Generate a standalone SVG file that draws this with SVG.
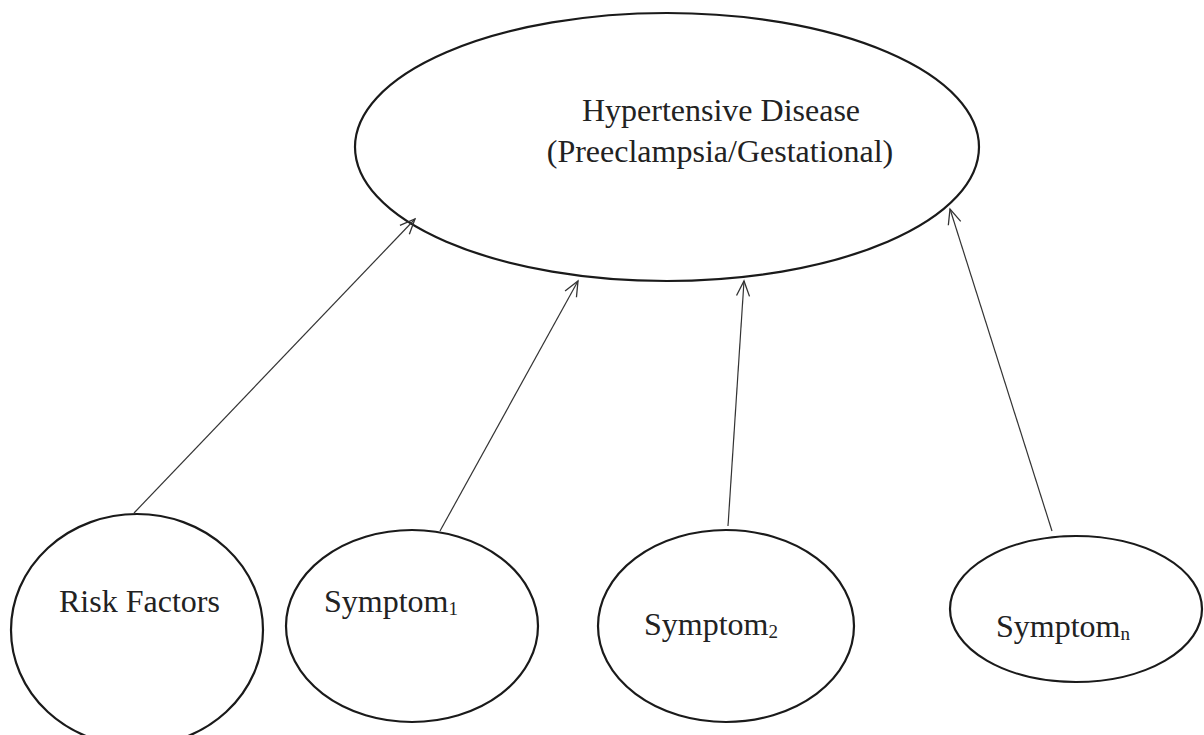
<svg xmlns="http://www.w3.org/2000/svg" width="1204" height="735" viewBox="0 0 1204 735">
<style>
.node{fill:#fff;stroke:#1a1a1a;stroke-width:2.2}
.lbl{font-family:"Liberation Serif","Times New Roman",serif;font-size:32px;fill:#222}
.sub{font-size:19px}
.conn line{stroke:#333;stroke-width:1.2}
</style>
<defs>
<marker id="arr" viewBox="0 0 20 20" refX="18" refY="10" markerWidth="20" markerHeight="20" markerUnits="userSpaceOnUse" orient="auto">
<path d="M3,3.5 L18,10 L3,16.5" fill="none" stroke="#333" stroke-width="1.3"/>
</marker>
</defs>
<rect width="1204" height="735" fill="#fff"/>
<g id="hypertensive">
<ellipse class="node" cx="667" cy="147" rx="312" ry="134"/>
<text class="lbl" x="721" y="121" text-anchor="middle">Hypertensive Disease</text>
<text class="lbl" x="720" y="162" text-anchor="middle">(Preeclampsia/Gestational)</text>
</g>
<g id="risk">
<ellipse class="node" cx="137" cy="630" rx="126" ry="116"/>
<text class="lbl" x="59" y="612">Risk Factors</text>
</g>
<g id="symptom1">
<ellipse class="node" cx="412" cy="626" rx="126" ry="96"/>
<text class="lbl" x="324" y="612">Symptom<tspan class="sub" dy="3">1</tspan></text>
</g>
<g id="symptom2">
<ellipse class="node" cx="726" cy="626" rx="128" ry="96"/>
<text class="lbl" x="644" y="635">Symptom<tspan class="sub" dy="3">2</tspan></text>
</g>
<g id="symptomn">
<ellipse class="node" cx="1076" cy="609" rx="126" ry="73"/>
<text class="lbl" x="996" y="637">Symptom<tspan class="sub" dy="3">n</tspan></text>
</g>
<g id="connectors" class="conn">
<line x1="134" y1="513" x2="415" y2="219" marker-end="url(#arr)"/>
<line x1="440" y1="531" x2="578" y2="281" marker-end="url(#arr)"/>
<line x1="728" y1="526" x2="744" y2="281" marker-end="url(#arr)"/>
<line x1="1052" y1="531" x2="950" y2="209" marker-end="url(#arr)"/>
</g>
</svg>
